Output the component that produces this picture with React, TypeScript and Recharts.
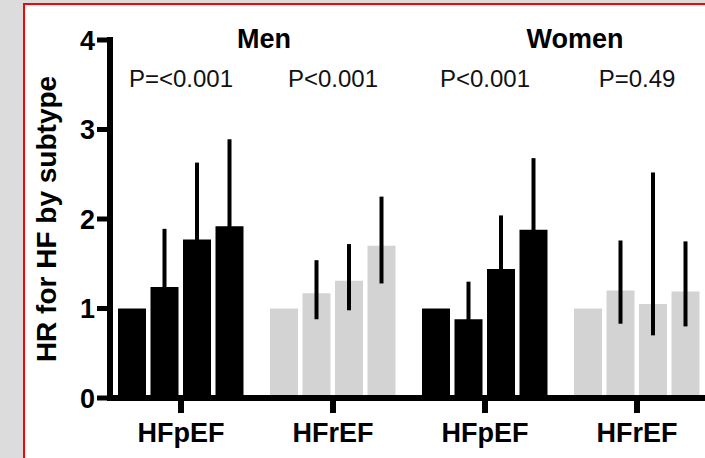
import { BarChart, Bar, XAxis, YAxis, Cell, ErrorBar, ReferenceLine } from "recharts";

// ---- Data ----

const groupIds = ["menP", "menR", "womenP", "womenR"];
const groupLabels = ["HFpEF", "HFrEF", "HFpEF", "HFrEF"];
const groupColors = ["#000000", "#d3d3d3", "#000000", "#d3d3d3"];
const pValues = ["P=<0.001", "P<0.001", "P<0.001", "P=0.49"];

// HR per quartile (reference quartile = 1)
const q1 = [1.0, 1.0, 1.0, 1.0];
const q2 = [1.24, 1.17, 0.88, 1.2];
const q3 = [1.77, 1.31, 1.44, 1.05];
const q4 = [1.92, 1.7, 1.88, 1.19];

// 95% CI bounds
const q2Lo = [0.82, 0.88, 0.6, 0.83];
const q2Hi = [1.89, 1.54, 1.3, 1.76];
const q3Lo = [1.19, 0.98, 1.02, 0.7];
const q3Hi = [2.63, 1.72, 2.04, 2.52];
const q4Lo = [1.28, 1.28, 1.32, 0.8];
const q4Hi = [2.89, 2.25, 2.68, 1.75];

const yTicks = [0, 1, 2, 3, 4];

const tableData = groupIds.map((id, i) => ({
  id,
  q1: q1[i],
  q2: q2[i],
  q3: q3[i],
  q4: q4[i],
  q2Err: [q2[i] - q2Lo[i], q2Hi[i] - q2[i]],
  q3Err: [q3[i] - q3Lo[i], q3Hi[i] - q3[i]],
  q4Err: [q4[i] - q4Lo[i], q4Hi[i] - q4[i]],
}));

const series = [
  { key: "q1", err: null },
  { key: "q2", err: "q2Err" },
  { key: "q3", err: "q3Err" },
  { key: "q4", err: "q4Err" },
];

const FONT = "'Liberation Sans', Arial, Helvetica, sans-serif";

export default function App() {
  return (
    <div
      style={{
        position: "absolute",
        left: 0,
        top: 0,
        width: 705,
        height: 458,
        overflow: "hidden",
        background: "#dcdcdc",
        fontFamily: FONT,
      }}
    >
      <div
        style={{
          position: "absolute",
          left: 23,
          top: 3,
          width: 720,
          height: 470,
          background: "#fff",
          borderLeft: "2px solid #ff0000",
          borderTop: "2px solid #ff0000",
        }}
      />
      <div style={{ position: "absolute", left: 0, top: 0 }}>
        <BarChart
          width={713}
          height={458}
          data={tableData}
          margin={{ top: 40, right: 0, bottom: 0, left: 0 }}
          barSize={28}
          barGap={4.5}
        >
          <XAxis
            dataKey="id"
            height={60}
            padding={{ left: -5, right: 0 }}
            tickFormatter={(v: string) => groupLabels[groupIds.indexOf(v)]}
            axisLine={{ stroke: "#000", strokeWidth: 6, strokeLinecap: "square" }}
            tickLine={{ stroke: "#000", strokeWidth: 6 }}
            tickSize={15}
            tickMargin={10}
            tick={{ fill: "#000", fontSize: 27, fontWeight: 700, fontFamily: FONT }}
          />
          <YAxis
            width={110}
            domain={[0, 4]}
            ticks={yTicks}
            interval={0}
            axisLine={{ stroke: "#000", strokeWidth: 6, strokeLinecap: "square" }}
            tickLine={{ stroke: "#000", strokeWidth: 5 }}
            tickSize={13}
            tickMargin={2}
            tick={{ fill: "#000", fontSize: 27, fontWeight: 700, fontFamily: FONT }}
            label={{
              value: "HR for HF by subtype",
              angle: -90,
              position: "center",
              dx: -9,
              style: { fill: "#000", fontSize: 28, fontWeight: 700, fontFamily: FONT },
            }}
          />
          {series.map((s) => (
            <Bar key={s.key} dataKey={s.key} isAnimationActive={false}>
              {tableData.map((d, i) => (
                <Cell key={d.id} fill={groupColors[i]} />
              ))}
              {s.err && (
                <ErrorBar
                  dataKey={s.err}
                  direction="y"
                  width={0}
                  stroke="#000"
                  strokeWidth={4}
                  isAnimationActive={false}
                />
              )}
            </Bar>
          ))}
          {groupIds.map((id, i) => (
            <ReferenceLine
              key={id}
              x={id}
              stroke="none"
              label={{
                value: pValues[i],
                position: "insideTop",
                offset: 30,
                style: { fill: "#111", fontSize: 24, fontFamily: FONT },
              }}
            />
          ))}
        </BarChart>
      </div>
      <svg
        width={705}
        height={458}
        style={{ position: "absolute", left: 0, top: 0, pointerEvents: "none" }}
      >
        <text x={264} y={48} textAnchor="middle" fontSize={27} fontWeight={700} fontFamily={FONT} fill="#000">
          Men
        </text>
        <text x={575} y={48} textAnchor="middle" fontSize={27} fontWeight={700} fontFamily={FONT} fill="#000">
          Women
        </text>
      </svg>
    </div>
  );
}
